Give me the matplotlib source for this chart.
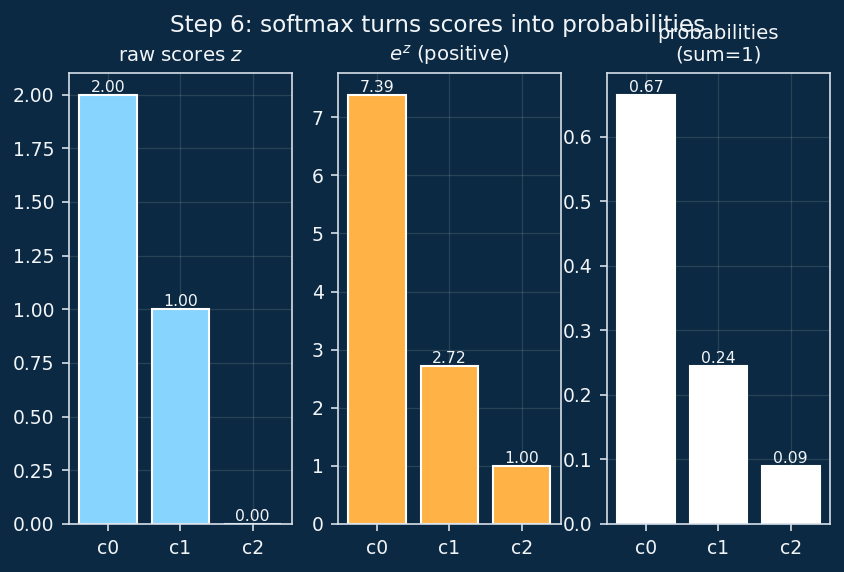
import matplotlib
matplotlib.use("Agg")
import matplotlib.pyplot as plt

# data
classes = ["c0", "c1", "c2"]
raw_scores = [2.00, 1.00, 0.00]
exp_scores = [7.389, 2.718, 1.000]
probs = [0.665, 0.245, 0.090]

bg = "#0b2942"
fg = "#f2f5f8"
edge = "#d6e0ea"

plt.rcParams["font.family"] = "DejaVu Sans"
fig, axes = plt.subplots(1, 3, figsize=(844 / 150, 572 / 150), dpi=150)
fig.patch.set_facecolor(bg)

panels = [
    (raw_scores, "#87d4ff", "raw scores $z$"),
    (exp_scores, "#ffb347", "$e^z$ (positive)"),
    (probs, "#ffffff", "probabilities\n(sum=1)"),
]

for ax, (vals, col, title) in zip(axes, panels):
    ax.set_facecolor(bg)
    bars = ax.bar(classes, vals, color=col, edgecolor="white", linewidth=1, zorder=2)
    ax.bar_label(bars, fmt="%.2f", fontsize=7.5, color=fg, padding=0)
    ax.set_title(title, fontsize=9.5, color=fg)
    ax.grid(True, color="white", alpha=0.12, linewidth=0.6, zorder=3)
    ax.tick_params(colors=edge, labelcolor=fg, labelsize=9)
    for s in ax.spines.values():
        s.set_color(edge)

fig.suptitle("Step 6: softmax turns scores into probabilities", x=0.519, y=0.956,
             va="center", fontsize=11.2, color=fg)
fig.subplots_adjust(left=0.082, right=0.983, top=0.872, bottom=0.084, wspace=0.21)
fig.savefig("out.png", dpi=150, facecolor=bg)
